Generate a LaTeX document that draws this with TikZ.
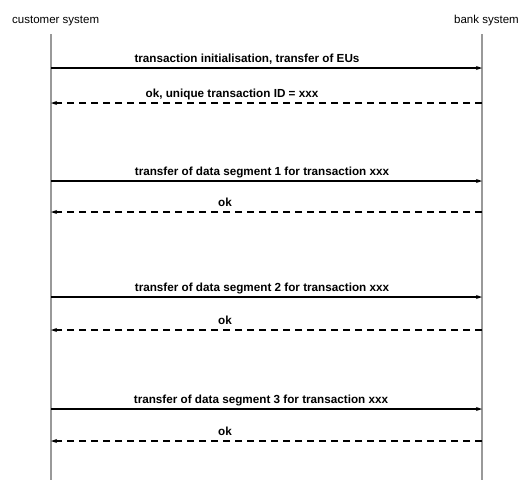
\documentclass[tikz,border=0pt]{standalone}
\usepackage{fontspec}
\setmainfont{Liberation Sans}
\usetikzlibrary{arrows.meta}
\tikzset{
  lifeline/.style={draw=black!40, line width=1.2pt},
  request/.style={line width=1.1pt, -{Stealth[length=6pt,width=4pt]}},
  reply/.style={line width=1.1pt, dash pattern=on 7pt off 5pt, -{Stealth[length=6pt,width=4pt]}},
  msg/.style={font=\bfseries\fontsize{11.7}{13}\selectfont, inner sep=0pt, anchor=base},
  sysname/.style={font=\fontsize{11.5}{13}\selectfont, inner sep=0pt, anchor=base west}
}

\begin{document}
\begin{tikzpicture}[x=1pt, y=-1pt]
        \useasboundingbox (0,0) rectangle (518,480);
        \node (cs) [sysname] at (12, 23) {customer system};
        \node (bs) [sysname] at (454, 23) {bank system};
        \coordinate (ct) at (51, 34);
        \coordinate (cb) at (51, 480);
        \coordinate (bt) at (482, 34);
        \coordinate (bb) at (482, 480);
        \draw [lifeline] (ct) -- (cb);
        \draw [lifeline] (bt) -- (bb);

        \coordinate (c1) at (51, 68);   \coordinate (b1) at (482, 68);
        \coordinate (c2) at (51, 103);  \coordinate (b2) at (482, 103);
        \coordinate (c3) at (51, 181);  \coordinate (b3) at (482, 181);
        \coordinate (c4) at (51, 212);  \coordinate (b4) at (482, 212);
        \coordinate (c5) at (51, 297);  \coordinate (b5) at (482, 297);
        \coordinate (c6) at (51, 330);  \coordinate (b6) at (482, 330);
        \coordinate (c7) at (51, 409);  \coordinate (b7) at (482, 409);
        \coordinate (c8) at (51, 441);  \coordinate (b8) at (482, 441);

        \node (m1) [msg] at (247, 62) {transaction initialisation, transfer of EUs};
        \node (m2) [msg] at (232, 97) {ok, unique transaction ID = xxx};
        \node (m3) [msg] at (262, 175) {transfer of data segment 1 for transaction xxx};
        \node (m4) [msg] at (225, 206) {ok};
        \node (m5) [msg] at (262, 291) {transfer of data segment 2 for transaction xxx};
        \node (m6) [msg] at (225, 324) {ok};
        \node (m7) [msg] at (261, 403) {transfer of data segment 3 for transaction xxx};
        \node (m8) [msg] at (225, 435) {ok};

        \draw [request] (c1) -- (b1);
        \draw [reply] (b2) -- (c2);
        \draw [request] (c3) -- (b3);
        \draw [reply] (b4) -- (c4);
        \draw [request] (c5) -- (b5);
        \draw [reply] (b6) -- (c6);
        \draw [request] (c7) -- (b7);
        \draw [reply] (b8) -- (c8);
\end{tikzpicture}
\end{document}
